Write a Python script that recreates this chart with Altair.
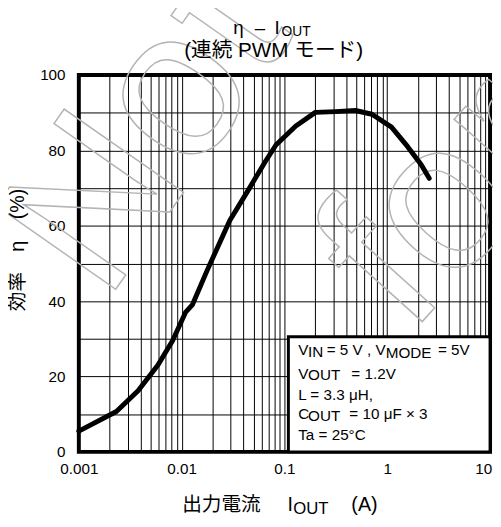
import altair as alt
import pandas as pd

# ---- data ----
iout = [0.001, 0.00232, 0.00377, 0.00586, 0.00816, 0.0109, 0.0127, 0.0178,
        0.0294, 0.0457, 0.065, 0.083, 0.129, 0.2, 0.314, 0.49, 0.71, 1.1,
        1.58, 2.14, 2.56]
eff = [5.5, 10.7, 16.2, 23.0, 29.5, 37.0, 39.0, 48.3,
       61.4, 70.0, 77.0, 81.5, 86.5, 90.1, 90.3, 90.6, 89.6, 86.2,
       81.0, 76.2, 72.6]
x_decades = [0.001, 0.01, 0.1, 1, 10]
y_ticks = [0, 10, 20, 30, 40, 50, 60, 70, 80, 90, 100]

x_grid = []
for d in [0.001, 0.01, 0.1, 1]:
    for m in range(1, 10):
        x_grid.append(round(d * m, 6))
x_grid.append(10)

df = pd.DataFrame({"iout": iout, "eff": eff})
one = pd.DataFrame({"a": [0]})

LAT = "Liberation Sans, Arial, Noto Sans CJK JP"
W, H = 418, 383

xax = alt.Axis(
    values=x_grid, grid=True, gridColor="black", gridWidth=1, gridOpacity=1,
    ticks=False, domain=False, format="~g",
    labelExpr="indexof([0.001,0.01,0.1,1,10], datum.value) >= 0 ? datum.label : ''",
    labelOverlap=False, labelFontSize=15.5, labelColor="black", labelFont=LAT,
    labelPadding=10, labelAlign="center",
    labelOffset=alt.condition("datum.value == 10", alt.value(-7), alt.value(0)),
    title=None,
)
yax = alt.Axis(
    values=y_ticks, grid=True, gridColor="black", gridWidth=1, gridOpacity=1,
    ticks=False, domain=False,
    labelExpr="datum.value % 20 == 0 ? datum.label : ''",
    labelOverlap=False, labelFontSize=15.5, labelColor="black", labelFont=LAT,
    labelPadding=14, title=None,
)

line = alt.Chart(df).mark_line(color="black", strokeWidth=5, strokeCap="round",
                                strokeJoin="round").encode(
    x=alt.X("iout:Q", scale=alt.Scale(type="log", domain=[0.001, 10]), axis=xax),
    y=alt.Y("eff:Q", scale=alt.Scale(domain=[0, 100]), axis=yax),
)

box = alt.Chart(one).mark_rect(fill="white", stroke="black", strokeWidth=3).encode(
    x=alt.value(213), x2=alt.value(W), y=alt.value(266), y2=alt.value(H)
)


def txt(s, x, y, size=15.5, align="left", baseline="alphabetic", angle=0, **kw):
    props = dict(text=s, align=align, baseline=baseline, fontSize=size,
                 font=LAT, color="black")
    if angle:
        props["angle"] = angle
    props.update(kw)
    return alt.Chart(one).mark_text(**props).encode(x=alt.value(x), y=alt.value(y))


wm_style = dict(fill="white", fillOpacity=0, stroke="#b4b4b4", strokeWidth=1.5,
                fontWeight="normal")
watermark = [
    txt("Not", 70, 58, size=215, align="center", baseline="middle", angle=305, **wm_style),
    txt("for", 372, 128, size=215, align="center", baseline="middle", angle=312, **wm_style),
]

S, SS = 15.5, 15.5
labels = [
    # title
    txt("η", 157, -42, size=19),
    txt("–", 184, -42, size=19, align="center"),
    txt("I", 199, -42, size=19),
    txt("OUT", 206, -40, size=14),
    txt("(連続 PWM モード)", 198, -18, size=21, align="center"),
    # y title
    txt("効率", -62, 220, size=20, align="center", baseline="middle", angle=270),
    txt("η", -62, 174, size=20, align="center", baseline="middle", angle=270),
    txt("(%)", -62, 131, size=20, align="center", baseline="middle", angle=270),
    # x title
    txt("出力電流", 105, 443, size=20),
    txt("I", 212, 443, size=20),
    txt("OUT", 218, 446, size=17),
    txt("(A)", 277, 443, size=20),
    # conditions box
    txt("V", 223, 285, size=S),
    txt("IN", 233, 287, size=SS),
    txt("= 5 V , V", 252, 285, size=S),
    txt("MODE", 312, 288, size=SS),
    txt("= 5V", 365, 285, size=S),
    txt("V", 223, 309, size=S),
    txt("OUT", 233, 310, size=SS),
    txt("= 1.2V", 277, 309, size=S),
    txt("L = 3.3 μH,", 223, 330, size=S),
    txt("C", 223, 350, size=S),
    txt("OUT", 233, 352, size=SS),
    txt("= 10 μF   × 3", 275, 350, size=S),
    txt("Ta = 25°C", 223, 371, size=S),
]

chart = alt.layer(box, *watermark, line, *labels).properties(
    width=W, height=H,
    autosize=alt.AutoSizeParams(type="none"),
    padding={"left": 72, "top": 64, "right": 3, "bottom": 60},
).configure_view(stroke="black", strokeWidth=4)

chart.save("out.html", embed_options={"renderer": "svg", "actions": False})
